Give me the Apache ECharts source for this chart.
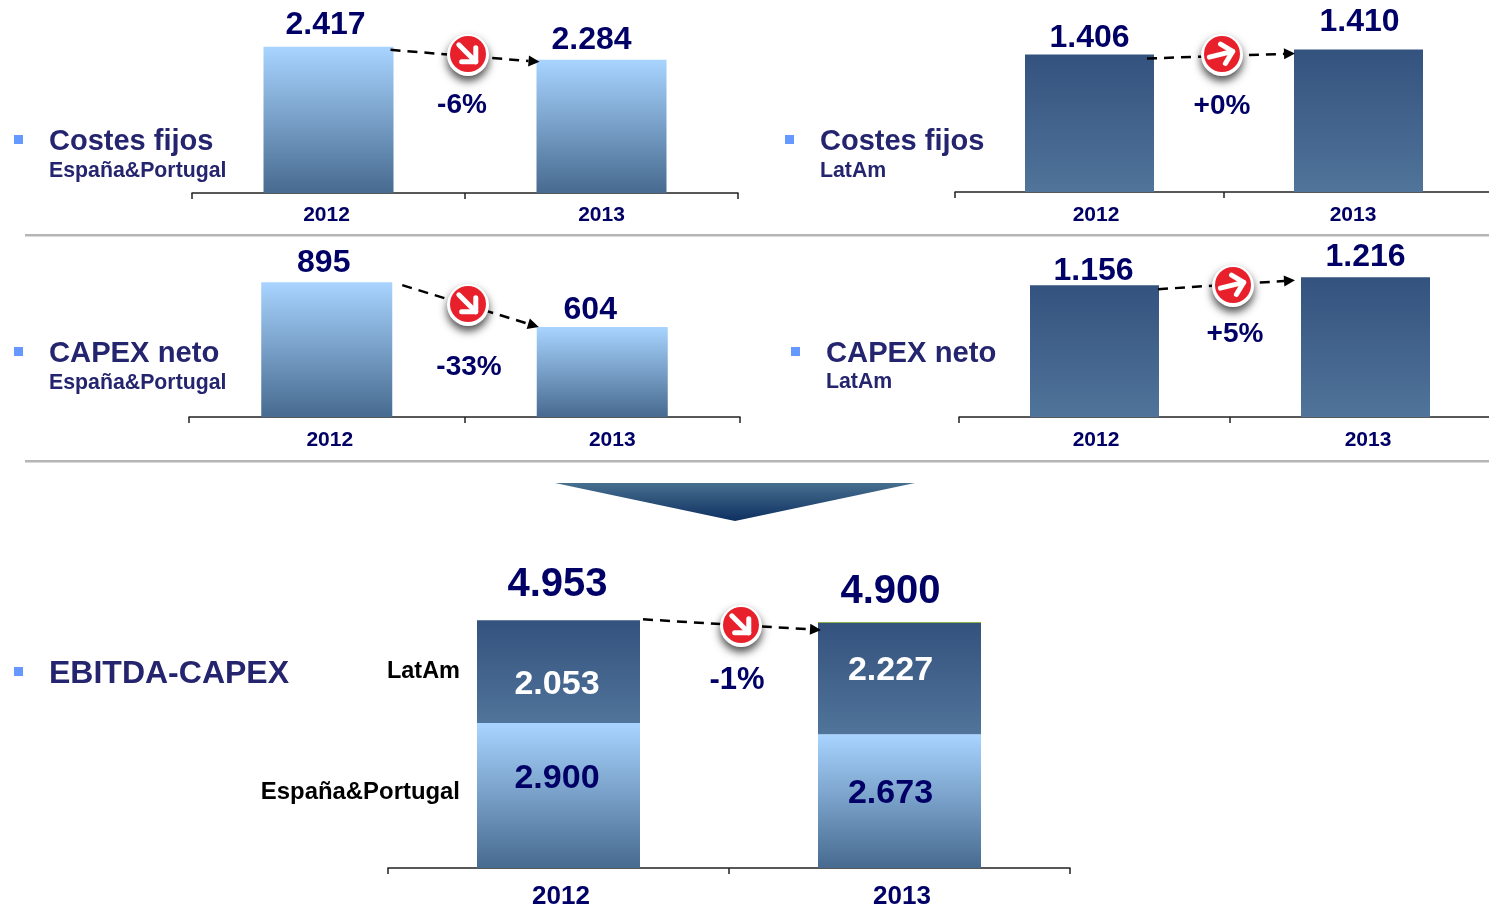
<!DOCTYPE html>
<html><head><meta charset="utf-8">
<style>html,body{margin:0;padding:0;background:#fff}#c{width:1489px;height:908px}</style>
<script src="https://cdn.jsdelivr.net/npm/echarts@6/dist/echarts.min.js"></script>
</head><body><div id="c"></div>
<script>
const years = ['2012', '2013'];
const costesEsp = [2417, 2284];
const costesLat = [1406, 1410];
const capexEsp = [895, 604];
const capexLat = [1156, 1216];
const ebitdaEsp = [2900, 2673];
const ebitdaLat = [2053, 2227];
const ebitdaOtros = [null, 0];
const ebitdaTotal = [4953, 4900];

const NAVY = '#000066', TITLE = '#25256f';
const FONT = '"Liberation Sans", Arial, sans-serif';
const fmt = v => String(v).replace(/\B(?=(\d{3})+$)/g, '.');
const grad = (a, b) => new echarts.graphic.LinearGradient(0, 0, 0, 1, [{offset: 0, color: a}, {offset: 1, color: b}]);
const LIGHT = () => grad('#a8d4ff', '#476a8f');
const DARK = () => grad('#34527e', '#50749a');

const panels = [
  {vals: costesEsp, fill: LIGHT, l: 192, w: 546, b: 193, h: 164, min: 920, max: 2600, bw: 130, font: 21, margin: 11.5,
   off: [[-3, -6], [-10, -4]], tick: [-2, 0], from: [-3, 3], to: [3, 2], badge: [468, 55], rot: -45, pct: ['-6%', 462, 105]},
  {vals: costesLat, fill: DARK, l: 955, w: 538, b: 192, h: 155, min: 1296, max: 1420, bw: 129, font: 21, margin: 13,
   off: [[0, 0], [1, -11]], tick: [6.5, -5.5], from: [-7, 4], to: [1, 4], badge: [1222, 55], rot: 14, pct: ['+0%', 1222, 106]},
  {vals: capexEsp, fill: LIGHT, l: 189, w: 551, b: 417, h: 151, min: 20, max: 1000, bw: 131, font: 21, margin: 13,
   off: [[-3, -3], [-12, -1]], tick: [3, 10], from: [10, 3], to: [2, 0], badge: [468, 305], rot: -45, pct: ['-33%', 469, 367]},
  {vals: capexLat, fill: DARK, l: 959, w: 542, b: 417, h: 151, min: 170, max: 1300, bw: 129, font: 21, margin: 13,
   off: [[-1, 2], [0, -4]], tick: [1.5, 2.5], from: [-1, 4], to: [-6, 3], badge: [1233, 286], rot: 14, pct: ['+5%', 1235, 334]}
];
const bottom = {l: 388, w: 682, b: 868, h: 250, min: 0, max: 5000, bw: 163, font: 26, margin: 16,
  totalOff: [[-1, -15], [-9, -11]], latOff: [[-1.5, 13], [-9, -8.5]], espOff: [[-1.5, -17], [-9, -8]],
  tick: [2.5, 2.5], from: [3, -1], to: [3, 7], badge: [741, 626], rot: -45, pct: ['-1%', 737, 680]};

const allPanels = panels.concat([bottom]);
const grids = allPanels.map(p => ({left: p.l, width: p.w, top: p.b - p.h, height: p.h, containLabel: false, outerBoundsMode: 'none'}));
const xAxes = allPanels.map((p, i) => ({
  type: 'category', gridIndex: i,
  data: years.map((y, k) => ({value: y, textStyle: {padding: p.tick[k] >= 0 ? [0, 0, 0, 2 * p.tick[k]] : [0, -2 * p.tick[k], 0, 0]}})),
  axisLine: {lineStyle: {color: '#222', width: 1.5}},
  axisTick: {show: true, alignWithLabel: false, length: 6, lineStyle: {color: '#222', width: 1.5}},
  axisLabel: {interval: 0, color: NAVY, fontFamily: FONT, fontWeight: 'bold', fontSize: p.font, margin: p.margin}
}));
const yAxes = allPanels.map((p, i) => ({type: 'value', gridIndex: i, min: p.min, max: p.max, show: false, splitLine: {show: false}}));

const series = panels.map((p, i) => ({
  type: 'bar', xAxisIndex: i, yAxisIndex: i, barWidth: p.bw, silent: true,
  data: p.vals.map((v, k) => ({value: v, label: {offset: p.off[k]}})),
  itemStyle: {color: p.fill()},
  label: {show: true, position: 'top', distance: 0, formatter: o => fmt(o.value), color: NAVY, fontFamily: FONT, fontWeight: 'bold', fontSize: 32}
}));
const bi = panels.length;
series.push({
  type: 'bar', stack: 'e', xAxisIndex: bi, yAxisIndex: bi, barWidth: bottom.bw,
  data: ebitdaEsp.map((v, k) => ({value: v, label: {offset: bottom.espOff[k]}})),
  itemStyle: {color: LIGHT()},
  label: {show: true, position: 'inside', formatter: o => fmt(o.value), color: NAVY, fontFamily: FONT, fontWeight: 'bold', fontSize: 34}
}, {
  type: 'bar', stack: 'e', xAxisIndex: bi, yAxisIndex: bi, barWidth: bottom.bw,
  data: ebitdaLat.map((v, k) => ({value: v, label: {offset: bottom.latOff[k]}})),
  itemStyle: {color: DARK()},
  label: {show: true, position: 'inside', formatter: o => fmt(o.value), color: '#fff', fontFamily: FONT, fontWeight: 'bold', fontSize: 34}
}, {
  type: 'bar', stack: 'e', xAxisIndex: bi, yAxisIndex: bi, barWidth: bottom.bw, barMinHeight: 1,
  data: ebitdaOtros, itemStyle: {color: '#8fb04a'}
}, {
  type: 'scatter', xAxisIndex: bi, yAxisIndex: bi, symbolSize: 0, itemStyle: {opacity: 1},
  data: ebitdaTotal.map((v, k) => ({value: [k, v], label: {offset: bottom.totalOff[k]}})),
  label: {show: true, position: 'top', distance: 0, formatter: o => fmt(o.value[1]), color: NAVY, opacity: 1, fontFamily: FONT, fontWeight: 'bold', fontSize: 40}
});

const chart = echarts.init(document.getElementById('c'), null, {renderer: 'canvas'});
chart.setOption({animation: false, backgroundColor: '#fff', grid: grids, xAxis: xAxes, yAxis: yAxes, series});

function txt(s, x, y, size, color, align) {
  return {type: 'text', x, y, z: 20, style: {text: s, fill: color, font: 'bold ' + size + 'px ' + FONT, textAlign: align || 'left', textVerticalAlign: 'middle'}};
}
const bullet = (x, y) => ({type: 'rect', z: 20, shape: {x, y, width: 9, height: 9}, style: {fill: '#6699ff'}});
const g = [
  {type: 'rect', z: 1, shape: {x: 25, y: 234, width: 1464, height: 2.5}, style: {fill: '#b5b5b5'}},
  {type: 'rect', z: 1, shape: {x: 25, y: 460, width: 1464, height: 2.5}, style: {fill: '#b5b5b5'}},
  {type: 'polygon', z: 5, shape: {points: [[555, 483], [915, 483], [735, 521]]},
   style: {fill: new echarts.graphic.LinearGradient(0, 0, 0, 1, [{offset: 0, color: '#47708f'}, {offset: 1, color: '#0d2f60'}])}},
  bullet(14, 135), bullet(785, 135), bullet(14, 347), bullet(791, 347), bullet(14, 667),
  txt('Costes fijos', 49, 142, 29, TITLE), txt('España&Portugal', 49, 171, 21.3, TITLE),
  txt('Costes fijos', 820, 142, 29, TITLE), txt('LatAm', 820, 171, 21.3, TITLE),
  txt('CAPEX neto', 49, 354, 29.2, TITLE), txt('España&Portugal', 49, 383, 21.3, TITLE),
  txt('CAPEX neto', 826, 354, 29.2, TITLE), txt('LatAm', 826, 382, 21.3, TITLE),
  txt('EBITDA-CAPEX', 49, 674, 32, TITLE),
  txt('LatAm', 460, 672, 23.5, '#000', 'right'), txt('España&Portugal', 460, 792, 23.9, '#000', 'right')
];

allPanels.forEach((p, i) => {
  const v0 = p === bottom ? ebitdaTotal[0] : p.vals[0];
  const v1 = p === bottom ? ebitdaTotal[1] : p.vals[1];
  const a = chart.convertToPixel({gridIndex: i}, [0, v0]);
  const b = chart.convertToPixel({gridIndex: i}, [1, v1]);
  const x1 = a[0] + p.bw / 2 + p.from[0], y1 = a[1] + p.from[1];
  const x2 = b[0] - p.bw / 2 + p.to[0], y2 = b[1] + p.to[1];
  const ang = Math.atan2(y2 - y1, x2 - x1);
  const ax = x2 - 11 * Math.cos(ang), ay = y2 - 11 * Math.sin(ang);
  const nx = -Math.sin(ang) * 5.5, ny = Math.cos(ang) * 5.5;
  g.push({type: 'line', z: 10, shape: {x1, y1, x2: ax, y2: ay}, style: {stroke: '#000', lineWidth: 2.5, lineDash: [10, 7]}});
  g.push({type: 'polygon', z: 10, shape: {points: [[x2, y2], [ax + nx, ay + ny], [ax - nx, ay - ny]]}, style: {fill: '#000'}});
  const [cx, cy] = p.badge;
  g.push({type: 'circle', z: 11, shape: {cx, cy, r: 21}, style: {fill: '#fff', shadowBlur: 9, shadowOffsetY: 5, shadowColor: 'rgba(0,0,0,0.7)'}});
  g.push({type: 'circle', z: 12, shape: {cx, cy: cy - 1, r: 18}, style: {fill: '#e8202c'}});
  g.push({type: 'group', z: 13, x: cx, y: cy - 1, rotation: (p.rot * Math.PI) / 180, children: [
    {type: 'polyline', z: 13, shape: {points: [[-13, 0], [11, 0]]}, style: {stroke: '#fff', lineWidth: 5, lineCap: 'round', fill: null}},
    {type: 'polyline', z: 13, shape: {points: [[1, -10], [11, 0], [1, 10]]}, style: {stroke: '#fff', lineWidth: 5, lineCap: 'round', lineJoin: 'round', fill: null}}
  ]});
  g.push(txt(p.pct[0], p.pct[1], p.pct[2], p === bottom ? 31 : 28, NAVY, 'center'));
});
chart.setOption({graphic: {elements: g}});
</script></body></html>
